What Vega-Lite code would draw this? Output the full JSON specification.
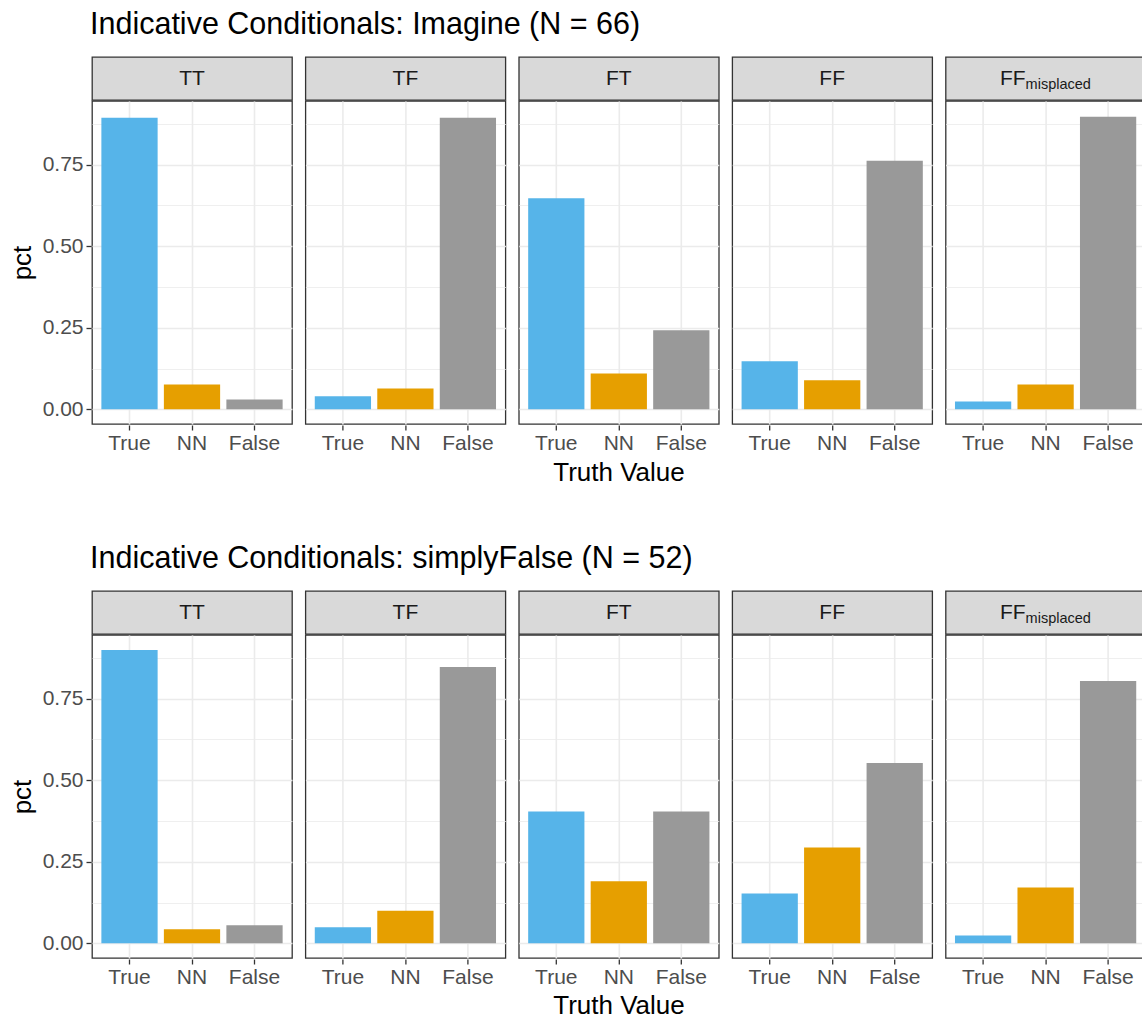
{
  "$schema": "https://vega.github.io/schema/vega-lite/v6.json",
  "padding": {"left": 9, "top": 9, "right": 0, "bottom": 0},
  "background": "white",
  "config": {
    "font": "Liberation Sans",
    "view": {"stroke": null},
    "title": {"font": "Liberation Sans", "fontSize": 30.5, "fontWeight": "normal", "color": "#000000", "anchor": "start"}
  },
  "datasets": {
    "bars": [
      {"block": "Imagine", "cond": "TT", "tv": "True", "pct": 0.894},
      {"block": "Imagine", "cond": "TT", "tv": "NN", "pct": 0.076},
      {"block": "Imagine", "cond": "TT", "tv": "False", "pct": 0.030},
      {"block": "Imagine", "cond": "TF", "tv": "True", "pct": 0.040},
      {"block": "Imagine", "cond": "TF", "tv": "NN", "pct": 0.064},
      {"block": "Imagine", "cond": "TF", "tv": "False", "pct": 0.894},
      {"block": "Imagine", "cond": "FT", "tv": "True", "pct": 0.647},
      {"block": "Imagine", "cond": "FT", "tv": "NN", "pct": 0.110},
      {"block": "Imagine", "cond": "FT", "tv": "False", "pct": 0.242},
      {"block": "Imagine", "cond": "FF", "tv": "True", "pct": 0.147},
      {"block": "Imagine", "cond": "FF", "tv": "NN", "pct": 0.089},
      {"block": "Imagine", "cond": "FF", "tv": "False", "pct": 0.762},
      {"block": "Imagine", "cond": "FFm", "tv": "True", "pct": 0.024},
      {"block": "Imagine", "cond": "FFm", "tv": "NN", "pct": 0.076},
      {"block": "Imagine", "cond": "FFm", "tv": "False", "pct": 0.897},
      {"block": "simplyFalse", "cond": "TT", "tv": "True", "pct": 0.899},
      {"block": "simplyFalse", "cond": "TT", "tv": "NN", "pct": 0.043},
      {"block": "simplyFalse", "cond": "TT", "tv": "False", "pct": 0.055},
      {"block": "simplyFalse", "cond": "TF", "tv": "True", "pct": 0.049},
      {"block": "simplyFalse", "cond": "TF", "tv": "NN", "pct": 0.100},
      {"block": "simplyFalse", "cond": "TF", "tv": "False", "pct": 0.847},
      {"block": "simplyFalse", "cond": "FT", "tv": "True", "pct": 0.404},
      {"block": "simplyFalse", "cond": "FT", "tv": "NN", "pct": 0.190},
      {"block": "simplyFalse", "cond": "FT", "tv": "False", "pct": 0.404},
      {"block": "simplyFalse", "cond": "FF", "tv": "True", "pct": 0.153},
      {"block": "simplyFalse", "cond": "FF", "tv": "NN", "pct": 0.294},
      {"block": "simplyFalse", "cond": "FF", "tv": "False", "pct": 0.553},
      {"block": "simplyFalse", "cond": "FFm", "tv": "True", "pct": 0.024},
      {"block": "simplyFalse", "cond": "FFm", "tv": "NN", "pct": 0.171},
      {"block": "simplyFalse", "cond": "FFm", "tv": "False", "pct": 0.804}
    ],
    "strips": [
      {"cond": "TT", "main": "TT", "sub": ""},
      {"cond": "TF", "main": "TF", "sub": ""},
      {"cond": "FT", "main": "FT", "sub": ""},
      {"cond": "FF", "main": "FF", "sub": ""},
      {"cond": "FFm", "main": "FF", "sub": "misplaced"}
    ]
  },
  "spacing": 57,
  "vconcat": [
    {
      "title": {"text": "Indicative Conditionals: Imagine (N = 66)", "dx": 81, "offset": 16},
      "spacing": -1.5,
      "vconcat": [
        {
          "data": {"name": "strips"},
          "facet": {"column": {"field": "cond", "sort": ["TT", "TF", "FT", "FF", "FFm"], "title": null, "header": {"labels": false}}},
          "spacing": 11.4,
          "spec": {
            "width": 200, "height": 43,
            "view": {"fill": "#D9D9D9", "stroke": "#333333", "strokeWidth": 1.3},
            "encoding": {
              "y": {"datum": 0.5, "type": "quantitative", "scale": {"domain": [0, 1]},
                "axis": {"title": "pct", "labels": false, "ticks": false, "domain": false, "grid": false, "minExtent": 50, "maxExtent": 50, "titleFontSize": 26, "titleFontWeight": "normal", "titlePadding": 6, "titleOpacity": 0}}
            },
            "layer": [
              {"transform": [{"filter": "datum.sub == ''"}], "mark": {"type": "text", "fontSize": 21, "color": "#1A1A1A", "baseline": "middle", "align": "center"}, "encoding": {"text": {"field": "main"}}},
              {"transform": [{"filter": "datum.sub != ''"}], "mark": {"type": "text", "fontSize": 21, "color": "#1A1A1A", "baseline": "middle", "align": "right", "dx": -20}, "encoding": {"text": {"field": "main"}}},
              {"transform": [{"filter": "datum.sub != ''"}], "mark": {"type": "text", "fontSize": 14.5, "color": "#1A1A1A", "baseline": "middle", "align": "left", "dx": -20, "dy": 6}, "encoding": {"text": {"field": "sub"}}}
            ]
          }
        },
        {
          "data": {"name": "bars"},
          "transform": [{"filter": "datum.block == 'Imagine'"}],
          "facet": {"column": {"field": "cond", "sort": ["TT", "TF", "FT", "FF", "FFm"], "title": "Truth Value",
            "header": {"labels": false, "titleOrient": "bottom", "titleFontSize": 26, "titleFontWeight": "normal", "titleColor": "#000000", "titlePadding": -3}}},
          "spacing": 11.4,
          "spec": {
            "width": 200, "height": 323,
            "view": {"fill": "white", "stroke": "#333333", "strokeWidth": 1.3},
            "mark": {"type": "bar"},
            "encoding": {
              "x": {"field": "tv", "type": "nominal", "sort": ["True", "NN", "False"], "scale": {"paddingInner": 0.1, "paddingOuter": 0.15},
                "axis": {"title": null, "bandPosition": 0.5, "grid": true, "gridColor": "#EBEBEB", "gridWidth": 1.6, "domain": false, "tickColor": "#333333", "tickSize": 5, "tickWidth": 1.3, "labelColor": "#4D4D4D", "labelFontSize": 21, "labelPadding": 2, "labelAngle": 0}},
              "y": {"field": "pct", "type": "quantitative", "scale": {"domain": [-0.045, 0.945], "nice": false, "zero": false},
                "axis": {"values": [0, 0.125, 0.25, 0.375, 0.5, 0.625, 0.75, 0.875], "labelExpr": "datum.value*4 % 1 == 0 ? format(datum.value, '.2f') : ''", "labelOverlap": false,
                  "tickOpacity": {"condition": {"test": "datum.value*4 % 1 != 0", "value": 0}, "value": 1},
                  "gridWidth": {"condition": {"test": "datum.value*4 % 1 != 0", "value": 0.8}, "value": 1.6},
                  "grid": true, "gridColor": "#EBEBEB", "domain": false, "tickColor": "#333333", "tickSize": 5, "tickWidth": 1.3, "labelColor": "#4D4D4D", "labelFontSize": 21, "labelPadding": 3,
                  "title": "pct", "titleFontSize": 26, "titleFontWeight": "normal", "titleColor": "#000000", "titlePadding": 6, "minExtent": 50, "maxExtent": 50}},
              "y2": {"datum": 0},
              "color": {"field": "tv", "type": "nominal", "scale": {"domain": ["True", "NN", "False"], "range": ["#56B4E9", "#E69F00", "#999999"]}, "legend": null}
            }
          }
        }
      ]
    },
    {
      "title": {"text": "Indicative Conditionals: simplyFalse (N = 52)", "dx": 81, "offset": 16},
      "spacing": -1.5,
      "vconcat": [
        {
          "data": {"name": "strips"},
          "facet": {"column": {"field": "cond", "sort": ["TT", "TF", "FT", "FF", "FFm"], "title": null, "header": {"labels": false}}},
          "spacing": 11.4,
          "spec": {
            "width": 200, "height": 43,
            "view": {"fill": "#D9D9D9", "stroke": "#333333", "strokeWidth": 1.3},
            "encoding": {
              "y": {"datum": 0.5, "type": "quantitative", "scale": {"domain": [0, 1]},
                "axis": {"title": "pct", "labels": false, "ticks": false, "domain": false, "grid": false, "minExtent": 50, "maxExtent": 50, "titleFontSize": 26, "titleFontWeight": "normal", "titlePadding": 6, "titleOpacity": 0}}
            },
            "layer": [
              {"transform": [{"filter": "datum.sub == ''"}], "mark": {"type": "text", "fontSize": 21, "color": "#1A1A1A", "baseline": "middle", "align": "center"}, "encoding": {"text": {"field": "main"}}},
              {"transform": [{"filter": "datum.sub != ''"}], "mark": {"type": "text", "fontSize": 21, "color": "#1A1A1A", "baseline": "middle", "align": "right", "dx": -20}, "encoding": {"text": {"field": "main"}}},
              {"transform": [{"filter": "datum.sub != ''"}], "mark": {"type": "text", "fontSize": 14.5, "color": "#1A1A1A", "baseline": "middle", "align": "left", "dx": -20, "dy": 6}, "encoding": {"text": {"field": "sub"}}}
            ]
          }
        },
        {
          "data": {"name": "bars"},
          "transform": [{"filter": "datum.block == 'simplyFalse'"}],
          "facet": {"column": {"field": "cond", "sort": ["TT", "TF", "FT", "FF", "FFm"], "title": "Truth Value",
            "header": {"labels": false, "titleOrient": "bottom", "titleFontSize": 26, "titleFontWeight": "normal", "titleColor": "#000000", "titlePadding": -4}}},
          "spacing": 11.4,
          "spec": {
            "width": 200, "height": 323,
            "view": {"fill": "white", "stroke": "#333333", "strokeWidth": 1.3},
            "mark": {"type": "bar"},
            "encoding": {
              "x": {"field": "tv", "type": "nominal", "sort": ["True", "NN", "False"], "scale": {"paddingInner": 0.1, "paddingOuter": 0.15},
                "axis": {"title": null, "bandPosition": 0.5, "grid": true, "gridColor": "#EBEBEB", "gridWidth": 1.6, "domain": false, "tickColor": "#333333", "tickSize": 5, "tickWidth": 1.3, "labelColor": "#4D4D4D", "labelFontSize": 21, "labelPadding": 2, "labelAngle": 0}},
              "y": {"field": "pct", "type": "quantitative", "scale": {"domain": [-0.045, 0.945], "nice": false, "zero": false},
                "axis": {"values": [0, 0.125, 0.25, 0.375, 0.5, 0.625, 0.75, 0.875], "labelExpr": "datum.value*4 % 1 == 0 ? format(datum.value, '.2f') : ''", "labelOverlap": false,
                  "tickOpacity": {"condition": {"test": "datum.value*4 % 1 != 0", "value": 0}, "value": 1},
                  "gridWidth": {"condition": {"test": "datum.value*4 % 1 != 0", "value": 0.8}, "value": 1.6},
                  "grid": true, "gridColor": "#EBEBEB", "domain": false, "tickColor": "#333333", "tickSize": 5, "tickWidth": 1.3, "labelColor": "#4D4D4D", "labelFontSize": 21, "labelPadding": 3,
                  "title": "pct", "titleFontSize": 26, "titleFontWeight": "normal", "titleColor": "#000000", "titlePadding": 6, "minExtent": 50, "maxExtent": 50}},
              "y2": {"datum": 0},
              "color": {"field": "tv", "type": "nominal", "scale": {"domain": ["True", "NN", "False"], "range": ["#56B4E9", "#E69F00", "#999999"]}, "legend": null}
            }
          }
        }
      ]
    }
  ]
}
